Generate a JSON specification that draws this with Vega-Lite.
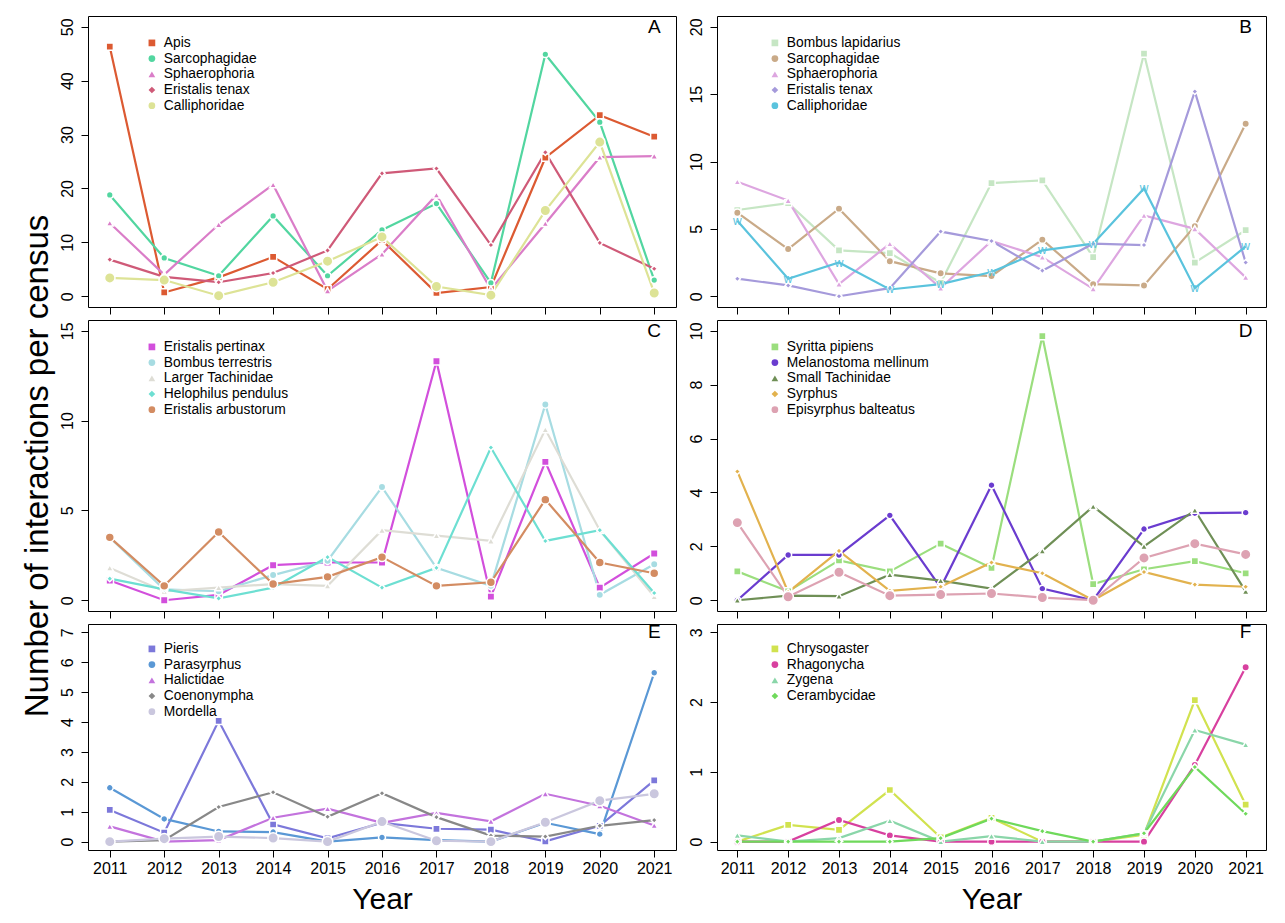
{
"$schema": "https://vega.github.io/schema/vega-lite/v6.json",
"background": "white",
"padding": {"left": 20, "top": 15, "right": 5, "bottom": 5},
"data": {"values": [
{"panel":"A","taxon":"Apis","year":2011,"value":46.3},{"panel":"A","taxon":"Apis","year":2012,"value":0.7},{"panel":"A","taxon":"Apis","year":2013,"value":3.5},{"panel":"A","taxon":"Apis","year":2014,"value":7.3},{"panel":"A","taxon":"Apis","year":2015,"value":1.3},{"panel":"A","taxon":"Apis","year":2016,"value":10.4},{"panel":"A","taxon":"Apis","year":2017,"value":0.6},{"panel":"A","taxon":"Apis","year":2018,"value":1.7},{"panel":"A","taxon":"Apis","year":2019,"value":25.7},{"panel":"A","taxon":"Apis","year":2020,"value":33.6},{"panel":"A","taxon":"Apis","year":2021,"value":29.6},
{"panel":"A","taxon":"Sarcophagidae","year":2011,"value":18.8},{"panel":"A","taxon":"Sarcophagidae","year":2012,"value":7.1},{"panel":"A","taxon":"Sarcophagidae","year":2013,"value":3.8},{"panel":"A","taxon":"Sarcophagidae","year":2014,"value":14.9},{"panel":"A","taxon":"Sarcophagidae","year":2015,"value":3.8},{"panel":"A","taxon":"Sarcophagidae","year":2016,"value":12.3},{"panel":"A","taxon":"Sarcophagidae","year":2017,"value":17.2},{"panel":"A","taxon":"Sarcophagidae","year":2018,"value":2.5},{"panel":"A","taxon":"Sarcophagidae","year":2019,"value":44.9},{"panel":"A","taxon":"Sarcophagidae","year":2020,"value":32.3},{"panel":"A","taxon":"Sarcophagidae","year":2021,"value":3.0},
{"panel":"A","taxon":"Sphaerophoria","year":2011,"value":13.6},{"panel":"A","taxon":"Sphaerophoria","year":2012,"value":4.0},{"panel":"A","taxon":"Sphaerophoria","year":2013,"value":13.3},{"panel":"A","taxon":"Sphaerophoria","year":2014,"value":20.7},{"panel":"A","taxon":"Sphaerophoria","year":2015,"value":1.0},{"panel":"A","taxon":"Sphaerophoria","year":2016,"value":7.8},{"panel":"A","taxon":"Sphaerophoria","year":2017,"value":18.8},{"panel":"A","taxon":"Sphaerophoria","year":2018,"value":1.3},{"panel":"A","taxon":"Sphaerophoria","year":2019,"value":13.5},{"panel":"A","taxon":"Sphaerophoria","year":2020,"value":25.8},{"panel":"A","taxon":"Sphaerophoria","year":2021,"value":26.0},
{"panel":"A","taxon":"Eristalis tenax","year":2011,"value":6.8},{"panel":"A","taxon":"Eristalis tenax","year":2012,"value":3.6},{"panel":"A","taxon":"Eristalis tenax","year":2013,"value":2.6},{"panel":"A","taxon":"Eristalis tenax","year":2014,"value":4.3},{"panel":"A","taxon":"Eristalis tenax","year":2015,"value":8.5},{"panel":"A","taxon":"Eristalis tenax","year":2016,"value":22.8},{"panel":"A","taxon":"Eristalis tenax","year":2017,"value":23.7},{"panel":"A","taxon":"Eristalis tenax","year":2018,"value":9.5},{"panel":"A","taxon":"Eristalis tenax","year":2019,"value":26.7},{"panel":"A","taxon":"Eristalis tenax","year":2020,"value":9.9},{"panel":"A","taxon":"Eristalis tenax","year":2021,"value":5.1},
{"panel":"A","taxon":"Calliphoridae","year":2011,"value":3.4},{"panel":"A","taxon":"Calliphoridae","year":2012,"value":3.0},{"panel":"A","taxon":"Calliphoridae","year":2013,"value":0.1},{"panel":"A","taxon":"Calliphoridae","year":2014,"value":2.6},{"panel":"A","taxon":"Calliphoridae","year":2015,"value":6.5},{"panel":"A","taxon":"Calliphoridae","year":2016,"value":11.0},{"panel":"A","taxon":"Calliphoridae","year":2017,"value":1.8},{"panel":"A","taxon":"Calliphoridae","year":2018,"value":0.2},{"panel":"A","taxon":"Calliphoridae","year":2019,"value":15.9},{"panel":"A","taxon":"Calliphoridae","year":2020,"value":28.6},{"panel":"A","taxon":"Calliphoridae","year":2021,"value":0.6},
{"panel":"B","taxon":"Bombus lapidarius","year":2011,"value":6.4},{"panel":"B","taxon":"Bombus lapidarius","year":2012,"value":6.9},{"panel":"B","taxon":"Bombus lapidarius","year":2013,"value":3.4},{"panel":"B","taxon":"Bombus lapidarius","year":2014,"value":3.2},{"panel":"B","taxon":"Bombus lapidarius","year":2015,"value":1.0},{"panel":"B","taxon":"Bombus lapidarius","year":2016,"value":8.4},{"panel":"B","taxon":"Bombus lapidarius","year":2017,"value":8.6},{"panel":"B","taxon":"Bombus lapidarius","year":2018,"value":2.9},{"panel":"B","taxon":"Bombus lapidarius","year":2019,"value":18.0},{"panel":"B","taxon":"Bombus lapidarius","year":2020,"value":2.5},{"panel":"B","taxon":"Bombus lapidarius","year":2021,"value":4.9},
{"panel":"B","taxon":"Sarcophagidae","year":2011,"value":6.2},{"panel":"B","taxon":"Sarcophagidae","year":2012,"value":3.5},{"panel":"B","taxon":"Sarcophagidae","year":2013,"value":6.5},{"panel":"B","taxon":"Sarcophagidae","year":2014,"value":2.6},{"panel":"B","taxon":"Sarcophagidae","year":2015,"value":1.7},{"panel":"B","taxon":"Sarcophagidae","year":2016,"value":1.5},{"panel":"B","taxon":"Sarcophagidae","year":2017,"value":4.2},{"panel":"B","taxon":"Sarcophagidae","year":2018,"value":0.9},{"panel":"B","taxon":"Sarcophagidae","year":2019,"value":0.8},{"panel":"B","taxon":"Sarcophagidae","year":2020,"value":5.2},{"panel":"B","taxon":"Sarcophagidae","year":2021,"value":12.8},
{"panel":"B","taxon":"Sphaerophoria","year":2011,"value":8.5},{"panel":"B","taxon":"Sphaerophoria","year":2012,"value":7.1},{"panel":"B","taxon":"Sphaerophoria","year":2013,"value":0.9},{"panel":"B","taxon":"Sphaerophoria","year":2014,"value":3.9},{"panel":"B","taxon":"Sphaerophoria","year":2015,"value":0.6},{"panel":"B","taxon":"Sphaerophoria","year":2016,"value":4.1},{"panel":"B","taxon":"Sphaerophoria","year":2017,"value":2.9},{"panel":"B","taxon":"Sphaerophoria","year":2018,"value":0.55},{"panel":"B","taxon":"Sphaerophoria","year":2019,"value":6.0},{"panel":"B","taxon":"Sphaerophoria","year":2020,"value":5.0},{"panel":"B","taxon":"Sphaerophoria","year":2021,"value":1.4},
{"panel":"B","taxon":"Eristalis tenax","year":2011,"value":1.3},{"panel":"B","taxon":"Eristalis tenax","year":2012,"value":0.8},{"panel":"B","taxon":"Eristalis tenax","year":2013,"value":0.0},{"panel":"B","taxon":"Eristalis tenax","year":2014,"value":0.6},{"panel":"B","taxon":"Eristalis tenax","year":2015,"value":4.8},{"panel":"B","taxon":"Eristalis tenax","year":2016,"value":4.1},{"panel":"B","taxon":"Eristalis tenax","year":2017,"value":1.9},{"panel":"B","taxon":"Eristalis tenax","year":2018,"value":3.9},{"panel":"B","taxon":"Eristalis tenax","year":2019,"value":3.8},{"panel":"B","taxon":"Eristalis tenax","year":2020,"value":15.2},{"panel":"B","taxon":"Eristalis tenax","year":2021,"value":2.5},
{"panel":"B","taxon":"Calliphoridae","year":2011,"value":5.6},{"panel":"B","taxon":"Calliphoridae","year":2012,"value":1.3},{"panel":"B","taxon":"Calliphoridae","year":2013,"value":2.5},{"panel":"B","taxon":"Calliphoridae","year":2014,"value":0.5},{"panel":"B","taxon":"Calliphoridae","year":2015,"value":0.9},{"panel":"B","taxon":"Calliphoridae","year":2016,"value":1.8},{"panel":"B","taxon":"Calliphoridae","year":2017,"value":3.4},{"panel":"B","taxon":"Calliphoridae","year":2018,"value":3.9},{"panel":"B","taxon":"Calliphoridae","year":2019,"value":8.0},{"panel":"B","taxon":"Calliphoridae","year":2020,"value":0.6},{"panel":"B","taxon":"Calliphoridae","year":2021,"value":3.7},
{"panel":"C","taxon":"Eristalis pertinax","year":2011,"value":1.1},{"panel":"C","taxon":"Eristalis pertinax","year":2012,"value":0.0},{"panel":"C","taxon":"Eristalis pertinax","year":2013,"value":0.3},{"panel":"C","taxon":"Eristalis pertinax","year":2014,"value":1.95},{"panel":"C","taxon":"Eristalis pertinax","year":2015,"value":2.1},{"panel":"C","taxon":"Eristalis pertinax","year":2016,"value":2.1},{"panel":"C","taxon":"Eristalis pertinax","year":2017,"value":13.3},{"panel":"C","taxon":"Eristalis pertinax","year":2018,"value":0.2},{"panel":"C","taxon":"Eristalis pertinax","year":2019,"value":7.7},{"panel":"C","taxon":"Eristalis pertinax","year":2020,"value":0.7},{"panel":"C","taxon":"Eristalis pertinax","year":2021,"value":2.6},
{"panel":"C","taxon":"Bombus terrestris","year":2011,"value":3.5},{"panel":"C","taxon":"Bombus terrestris","year":2012,"value":0.6},{"panel":"C","taxon":"Bombus terrestris","year":2013,"value":0.5},{"panel":"C","taxon":"Bombus terrestris","year":2014,"value":1.4},{"panel":"C","taxon":"Bombus terrestris","year":2015,"value":2.2},{"panel":"C","taxon":"Bombus terrestris","year":2016,"value":6.3},{"panel":"C","taxon":"Bombus terrestris","year":2017,"value":1.8},{"panel":"C","taxon":"Bombus terrestris","year":2018,"value":0.8},{"panel":"C","taxon":"Bombus terrestris","year":2019,"value":10.9},{"panel":"C","taxon":"Bombus terrestris","year":2020,"value":0.3},{"panel":"C","taxon":"Bombus terrestris","year":2021,"value":2.0},
{"panel":"C","taxon":"Larger Tachinidae","year":2011,"value":1.8},{"panel":"C","taxon":"Larger Tachinidae","year":2012,"value":0.5},{"panel":"C","taxon":"Larger Tachinidae","year":2013,"value":0.7},{"panel":"C","taxon":"Larger Tachinidae","year":2014,"value":0.9},{"panel":"C","taxon":"Larger Tachinidae","year":2015,"value":0.8},{"panel":"C","taxon":"Larger Tachinidae","year":2016,"value":3.9},{"panel":"C","taxon":"Larger Tachinidae","year":2017,"value":3.6},{"panel":"C","taxon":"Larger Tachinidae","year":2018,"value":3.3},{"panel":"C","taxon":"Larger Tachinidae","year":2019,"value":9.5},{"panel":"C","taxon":"Larger Tachinidae","year":2020,"value":3.9},{"panel":"C","taxon":"Larger Tachinidae","year":2021,"value":0.2},
{"panel":"C","taxon":"Helophilus pendulus","year":2011,"value":1.2},{"panel":"C","taxon":"Helophilus pendulus","year":2012,"value":0.6},{"panel":"C","taxon":"Helophilus pendulus","year":2013,"value":0.1},{"panel":"C","taxon":"Helophilus pendulus","year":2014,"value":0.7},{"panel":"C","taxon":"Helophilus pendulus","year":2015,"value":2.4},{"panel":"C","taxon":"Helophilus pendulus","year":2016,"value":0.7},{"panel":"C","taxon":"Helophilus pendulus","year":2017,"value":1.8},{"panel":"C","taxon":"Helophilus pendulus","year":2018,"value":8.5},{"panel":"C","taxon":"Helophilus pendulus","year":2019,"value":3.3},{"panel":"C","taxon":"Helophilus pendulus","year":2020,"value":3.9},{"panel":"C","taxon":"Helophilus pendulus","year":2021,"value":0.4},
{"panel":"C","taxon":"Eristalis arbustorum","year":2011,"value":3.5},{"panel":"C","taxon":"Eristalis arbustorum","year":2012,"value":0.8},{"panel":"C","taxon":"Eristalis arbustorum","year":2013,"value":3.8},{"panel":"C","taxon":"Eristalis arbustorum","year":2014,"value":0.9},{"panel":"C","taxon":"Eristalis arbustorum","year":2015,"value":1.3},{"panel":"C","taxon":"Eristalis arbustorum","year":2016,"value":2.4},{"panel":"C","taxon":"Eristalis arbustorum","year":2017,"value":0.8},{"panel":"C","taxon":"Eristalis arbustorum","year":2018,"value":1.0},{"panel":"C","taxon":"Eristalis arbustorum","year":2019,"value":5.6},{"panel":"C","taxon":"Eristalis arbustorum","year":2020,"value":2.1},{"panel":"C","taxon":"Eristalis arbustorum","year":2021,"value":1.5},
{"panel":"D","taxon":"Syritta pipiens","year":2011,"value":1.07},{"panel":"D","taxon":"Syritta pipiens","year":2012,"value":0.33},{"panel":"D","taxon":"Syritta pipiens","year":2013,"value":1.48},{"panel":"D","taxon":"Syritta pipiens","year":2014,"value":1.07},{"panel":"D","taxon":"Syritta pipiens","year":2015,"value":2.1},{"panel":"D","taxon":"Syritta pipiens","year":2016,"value":1.2},{"panel":"D","taxon":"Syritta pipiens","year":2017,"value":9.8},{"panel":"D","taxon":"Syritta pipiens","year":2018,"value":0.6},{"panel":"D","taxon":"Syritta pipiens","year":2019,"value":1.15},{"panel":"D","taxon":"Syritta pipiens","year":2020,"value":1.45},{"panel":"D","taxon":"Syritta pipiens","year":2021,"value":1.0},
{"panel":"D","taxon":"Melanostoma mellinum","year":2011,"value":0.0},{"panel":"D","taxon":"Melanostoma mellinum","year":2012,"value":1.68},{"panel":"D","taxon":"Melanostoma mellinum","year":2013,"value":1.68},{"panel":"D","taxon":"Melanostoma mellinum","year":2014,"value":3.15},{"panel":"D","taxon":"Melanostoma mellinum","year":2015,"value":0.47},{"panel":"D","taxon":"Melanostoma mellinum","year":2016,"value":4.27},{"panel":"D","taxon":"Melanostoma mellinum","year":2017,"value":0.43},{"panel":"D","taxon":"Melanostoma mellinum","year":2018,"value":0.0},{"panel":"D","taxon":"Melanostoma mellinum","year":2019,"value":2.64},{"panel":"D","taxon":"Melanostoma mellinum","year":2020,"value":3.23},{"panel":"D","taxon":"Melanostoma mellinum","year":2021,"value":3.25},
{"panel":"D","taxon":"Small Tachinidae","year":2011,"value":0.0},{"panel":"D","taxon":"Small Tachinidae","year":2012,"value":0.17},{"panel":"D","taxon":"Small Tachinidae","year":2013,"value":0.15},{"panel":"D","taxon":"Small Tachinidae","year":2014,"value":0.95},{"panel":"D","taxon":"Small Tachinidae","year":2015,"value":0.73},{"panel":"D","taxon":"Small Tachinidae","year":2016,"value":0.43},{"panel":"D","taxon":"Small Tachinidae","year":2017,"value":1.83},{"panel":"D","taxon":"Small Tachinidae","year":2018,"value":3.48},{"panel":"D","taxon":"Small Tachinidae","year":2019,"value":2.0},{"panel":"D","taxon":"Small Tachinidae","year":2020,"value":3.34},{"panel":"D","taxon":"Small Tachinidae","year":2021,"value":0.33},
{"panel":"D","taxon":"Syrphus","year":2011,"value":4.78},{"panel":"D","taxon":"Syrphus","year":2012,"value":0.3},{"panel":"D","taxon":"Syrphus","year":2013,"value":1.83},{"panel":"D","taxon":"Syrphus","year":2014,"value":0.35},{"panel":"D","taxon":"Syrphus","year":2015,"value":0.5},{"panel":"D","taxon":"Syrphus","year":2016,"value":1.4},{"panel":"D","taxon":"Syrphus","year":2017,"value":1.0},{"panel":"D","taxon":"Syrphus","year":2018,"value":0.0},{"panel":"D","taxon":"Syrphus","year":2019,"value":1.05},{"panel":"D","taxon":"Syrphus","year":2020,"value":0.58},{"panel":"D","taxon":"Syrphus","year":2021,"value":0.5},
{"panel":"D","taxon":"Episyrphus balteatus","year":2011,"value":2.88},{"panel":"D","taxon":"Episyrphus balteatus","year":2012,"value":0.13},{"panel":"D","taxon":"Episyrphus balteatus","year":2013,"value":1.04},{"panel":"D","taxon":"Episyrphus balteatus","year":2014,"value":0.17},{"panel":"D","taxon":"Episyrphus balteatus","year":2015,"value":0.21},{"panel":"D","taxon":"Episyrphus balteatus","year":2016,"value":0.25},{"panel":"D","taxon":"Episyrphus balteatus","year":2017,"value":0.1},{"panel":"D","taxon":"Episyrphus balteatus","year":2018,"value":0.0},{"panel":"D","taxon":"Episyrphus balteatus","year":2019,"value":1.57},{"panel":"D","taxon":"Episyrphus balteatus","year":2020,"value":2.1},{"panel":"D","taxon":"Episyrphus balteatus","year":2021,"value":1.7},
{"panel":"E","taxon":"Pieris","year":2011,"value":1.06},{"panel":"E","taxon":"Pieris","year":2012,"value":0.3},{"panel":"E","taxon":"Pieris","year":2013,"value":4.04},{"panel":"E","taxon":"Pieris","year":2014,"value":0.58},{"panel":"E","taxon":"Pieris","year":2015,"value":0.11},{"panel":"E","taxon":"Pieris","year":2016,"value":0.63},{"panel":"E","taxon":"Pieris","year":2017,"value":0.43},{"panel":"E","taxon":"Pieris","year":2018,"value":0.4},{"panel":"E","taxon":"Pieris","year":2019,"value":0.01},{"panel":"E","taxon":"Pieris","year":2020,"value":0.53},{"panel":"E","taxon":"Pieris","year":2021,"value":2.05},
{"panel":"E","taxon":"Parasyrphus","year":2011,"value":1.8},{"panel":"E","taxon":"Parasyrphus","year":2012,"value":0.76},{"panel":"E","taxon":"Parasyrphus","year":2013,"value":0.34},{"panel":"E","taxon":"Parasyrphus","year":2014,"value":0.32},{"panel":"E","taxon":"Parasyrphus","year":2015,"value":0.0},{"panel":"E","taxon":"Parasyrphus","year":2016,"value":0.14},{"panel":"E","taxon":"Parasyrphus","year":2017,"value":0.05},{"panel":"E","taxon":"Parasyrphus","year":2018,"value":0.0},{"panel":"E","taxon":"Parasyrphus","year":2019,"value":0.63},{"panel":"E","taxon":"Parasyrphus","year":2020,"value":0.25},{"panel":"E","taxon":"Parasyrphus","year":2021,"value":5.65},
{"panel":"E","taxon":"Halictidae","year":2011,"value":0.51},{"panel":"E","taxon":"Halictidae","year":2012,"value":0.0},{"panel":"E","taxon":"Halictidae","year":2013,"value":0.05},{"panel":"E","taxon":"Halictidae","year":2014,"value":0.8},{"panel":"E","taxon":"Halictidae","year":2015,"value":1.1},{"panel":"E","taxon":"Halictidae","year":2016,"value":0.63},{"panel":"E","taxon":"Halictidae","year":2017,"value":0.96},{"panel":"E","taxon":"Halictidae","year":2018,"value":0.68},{"panel":"E","taxon":"Halictidae","year":2019,"value":1.6},{"panel":"E","taxon":"Halictidae","year":2020,"value":1.2},{"panel":"E","taxon":"Halictidae","year":2021,"value":0.54},
{"panel":"E","taxon":"Coenonympha","year":2011,"value":0.0},{"panel":"E","taxon":"Coenonympha","year":2012,"value":0.05},{"panel":"E","taxon":"Coenonympha","year":2013,"value":1.16},{"panel":"E","taxon":"Coenonympha","year":2014,"value":1.65},{"panel":"E","taxon":"Coenonympha","year":2015,"value":0.83},{"panel":"E","taxon":"Coenonympha","year":2016,"value":1.62},{"panel":"E","taxon":"Coenonympha","year":2017,"value":0.82},{"panel":"E","taxon":"Coenonympha","year":2018,"value":0.2},{"panel":"E","taxon":"Coenonympha","year":2019,"value":0.17},{"panel":"E","taxon":"Coenonympha","year":2020,"value":0.53},{"panel":"E","taxon":"Coenonympha","year":2021,"value":0.72},
{"panel":"E","taxon":"Mordella","year":2011,"value":0.0},{"panel":"E","taxon":"Mordella","year":2012,"value":0.1},{"panel":"E","taxon":"Mordella","year":2013,"value":0.17},{"panel":"E","taxon":"Mordella","year":2014,"value":0.12},{"panel":"E","taxon":"Mordella","year":2015,"value":0.0},{"panel":"E","taxon":"Mordella","year":2016,"value":0.67},{"panel":"E","taxon":"Mordella","year":2017,"value":0.03},{"panel":"E","taxon":"Mordella","year":2018,"value":0.0},{"panel":"E","taxon":"Mordella","year":2019,"value":0.65},{"panel":"E","taxon":"Mordella","year":2020,"value":1.37},{"panel":"E","taxon":"Mordella","year":2021,"value":1.6},
{"panel":"F","taxon":"Chrysogaster","year":2011,"value":0.0},{"panel":"F","taxon":"Chrysogaster","year":2012,"value":0.24},{"panel":"F","taxon":"Chrysogaster","year":2013,"value":0.17},{"panel":"F","taxon":"Chrysogaster","year":2014,"value":0.74},{"panel":"F","taxon":"Chrysogaster","year":2015,"value":0.06},{"panel":"F","taxon":"Chrysogaster","year":2016,"value":0.34},{"panel":"F","taxon":"Chrysogaster","year":2017,"value":0.0},{"panel":"F","taxon":"Chrysogaster","year":2018,"value":0.0},{"panel":"F","taxon":"Chrysogaster","year":2019,"value":0.1},{"panel":"F","taxon":"Chrysogaster","year":2020,"value":2.03},{"panel":"F","taxon":"Chrysogaster","year":2021,"value":0.53},
{"panel":"F","taxon":"Rhagonycha","year":2011,"value":0.0},{"panel":"F","taxon":"Rhagonycha","year":2012,"value":0.0},{"panel":"F","taxon":"Rhagonycha","year":2013,"value":0.31},{"panel":"F","taxon":"Rhagonycha","year":2014,"value":0.09},{"panel":"F","taxon":"Rhagonycha","year":2015,"value":0.0},{"panel":"F","taxon":"Rhagonycha","year":2016,"value":0.0},{"panel":"F","taxon":"Rhagonycha","year":2017,"value":0.0},{"panel":"F","taxon":"Rhagonycha","year":2018,"value":0.0},{"panel":"F","taxon":"Rhagonycha","year":2019,"value":0.0},{"panel":"F","taxon":"Rhagonycha","year":2020,"value":1.1},{"panel":"F","taxon":"Rhagonycha","year":2021,"value":2.5},
{"panel":"F","taxon":"Zygena","year":2011,"value":0.09},{"panel":"F","taxon":"Zygena","year":2012,"value":0.0},{"panel":"F","taxon":"Zygena","year":2013,"value":0.05},{"panel":"F","taxon":"Zygena","year":2014,"value":0.3},{"panel":"F","taxon":"Zygena","year":2015,"value":0.0},{"panel":"F","taxon":"Zygena","year":2016,"value":0.08},{"panel":"F","taxon":"Zygena","year":2017,"value":0.0},{"panel":"F","taxon":"Zygena","year":2018,"value":0.0},{"panel":"F","taxon":"Zygena","year":2019,"value":0.12},{"panel":"F","taxon":"Zygena","year":2020,"value":1.6},{"panel":"F","taxon":"Zygena","year":2021,"value":1.39},
{"panel":"F","taxon":"Cerambycidae","year":2011,"value":0.0},{"panel":"F","taxon":"Cerambycidae","year":2012,"value":0.0},{"panel":"F","taxon":"Cerambycidae","year":2013,"value":0.0},{"panel":"F","taxon":"Cerambycidae","year":2014,"value":0.0},{"panel":"F","taxon":"Cerambycidae","year":2015,"value":0.05},{"panel":"F","taxon":"Cerambycidae","year":2016,"value":0.33},{"panel":"F","taxon":"Cerambycidae","year":2017,"value":0.15},{"panel":"F","taxon":"Cerambycidae","year":2018,"value":0.0},{"panel":"F","taxon":"Cerambycidae","year":2019,"value":0.12},{"panel":"F","taxon":"Cerambycidae","year":2020,"value":1.07},{"panel":"F","taxon":"Cerambycidae","year":2021,"value":0.4}
]},
"columns": 2,
"bounds": "flush",
"align": "each",
"spacing": {"row": 13, "column": 41},
"resolve": {"scale": {"x": "independent", "y": "independent", "color": "independent", "shape": "independent", "stroke": "independent"}, "legend": {"color": "independent", "shape": "independent", "stroke": "independent"}, "axis": {"x": "independent", "y": "independent"}},
"concat": [
{
 "width": 588, "height": 291,
 "transform": [{"filter": "datum.panel === 'A'"}],
 "encoding": {
  "x": {"field": "year", "type": "quantitative", "scale": {"domain": [2010.6, 2021.4], "nice": false, "zero": false}, "axis": {"values": [2011,2012,2013,2014,2015,2016,2017,2018,2019,2020,2021], "labels": false, "title": null}},
  "y": {"field": "value", "type": "quantitative", "scale": {"domain": [-2, 52], "nice": false, "zero": false}, "axis": {"values": [0,10,20,30,40,50], "title": null, "labelFontSize": 16}}
 },
 "layer": [
  {"mark": {"type": "line", "strokeWidth": 2.2}, "encoding": {"stroke": {"field": "taxon", "type": "nominal", "scale": {"domain": ["Calliphoridae","Eristalis tenax","Sphaerophoria","Sarcophagidae","Apis"], "range": ["#DDE396","#CF5A78","#DA7DC8","#52D6A0","#DC5A32"]}, "legend": null}}},
  {"mark": {"type": "point", "filled": true, "opacity": 1, "stroke": "white", "strokeWidth": 1.5},
   "encoding": {
    "color": {"field": "taxon", "type": "nominal", "scale": {"domain": ["Apis","Sarcophagidae","Sphaerophoria","Eristalis tenax","Calliphoridae"], "range": ["#DC5A32","#52D6A0","#DA7DC8","#CF5A78","#DDE396"]}, "legend": {"orient": "none", "legendX": 57, "legendY": 20, "title": null, "labelFontSize": 13.8, "rowPadding": 0.7, "labelOffset": 5}},
    "shape": {"field": "taxon", "type": "nominal", "scale": {"domain": ["Apis","Sarcophagidae","Sphaerophoria","Eristalis tenax","Calliphoridae"], "range": ["square","circle","triangle-up","diamond","circle"]}, "legend": {"orient": "none", "legendX": 57, "legendY": 20, "title": null, "labelFontSize": 13.8, "rowPadding": 0.7, "labelOffset": 5}},
    "size": {"condition": [{"test": "datum.taxon === 'Calliphoridae'", "value": 110}, {"test": "datum.taxon === 'Sarcophagidae'", "value": 45}, {"test": "datum.taxon === 'Eristalis tenax'", "value": 38}], "value": 52}
   }},
  {"transform": [{"filter": "datum.year === 2021 && datum.taxon === 'Apis'"}], "mark": {"type": "text", "fontSize": 19, "align": "center", "baseline": "middle", "color": "black"}, "encoding": {"x": {"datum": 2021}, "y": {"datum": 50}, "text": {"field": "panel"}}}
 ]
},
{
 "width": 549, "height": 291,
 "transform": [{"filter": "datum.panel === 'B'"}],
 "encoding": {
  "x": {"field": "year", "type": "quantitative", "scale": {"domain": [2010.6, 2021.4], "nice": false, "zero": false}, "axis": {"values": [2011,2012,2013,2014,2015,2016,2017,2018,2019,2020,2021], "labels": false, "title": null}},
  "y": {"field": "value", "type": "quantitative", "scale": {"domain": [-0.8, 20.8], "nice": false, "zero": false}, "axis": {"values": [0,5,10,15,20], "title": null, "labelFontSize": 16}}
 },
 "layer": [
  {"mark": {"type": "line", "strokeWidth": 2.2}, "encoding": {"stroke": {"field": "taxon", "type": "nominal", "scale": {"domain": ["Calliphoridae","Eristalis tenax","Sphaerophoria","Sarcophagidae","Bombus lapidarius"], "range": ["#5AC3DD","#A59ADB","#DDA6E0","#C9AA88","#C6E6C4"]}, "legend": null}}},
  {"transform": [{"filter": "datum.taxon !== 'Calliphoridae'"}],
   "mark": {"type": "point", "filled": true, "opacity": 1, "stroke": "white", "strokeWidth": 1.5},
   "encoding": {
    "color": {"field": "taxon", "type": "nominal", "scale": {"domain": ["Bombus lapidarius","Sarcophagidae","Sphaerophoria","Eristalis tenax","Calliphoridae"], "range": ["#C6E6C4","#C9AA88","#DDA6E0","#A59ADB","#5AC3DD"]}, "legend": {"orient": "none", "legendX": 51, "legendY": 20, "title": null, "labelFontSize": 13.8, "rowPadding": 0.7, "labelOffset": 5}},
    "shape": {"field": "taxon", "type": "nominal", "scale": {"domain": ["Bombus lapidarius","Sarcophagidae","Sphaerophoria","Eristalis tenax","Calliphoridae"], "range": ["square","circle","triangle-up","diamond","circle"]}, "legend": {"orient": "none", "legendX": 51, "legendY": 20, "title": null, "labelFontSize": 13.8, "rowPadding": 0.7, "labelOffset": 5}},
    "size": {"condition": [{"test": "datum.taxon === 'Sarcophagidae'", "value": 55}, {"test": "datum.taxon === 'Eristalis tenax'", "value": 38}], "value": 52}
   }},
  {"transform": [{"filter": "datum.taxon === 'Calliphoridae'"}], "mark": {"type": "text", "text": "w", "fontSize": 12, "color": "#5AC3DD", "baseline": "middle", "align": "center"}},
  {"transform": [{"filter": "datum.year === 2021 && datum.taxon === 'Bombus lapidarius'"}], "mark": {"type": "text", "fontSize": 19, "align": "center", "baseline": "middle", "color": "black"}, "encoding": {"x": {"datum": 2021}, "y": {"datum": 20}, "text": {"field": "panel"}}}
 ]
},
{
 "width": 588, "height": 291,
 "transform": [{"filter": "datum.panel === 'C'"}],
 "encoding": {
  "x": {"field": "year", "type": "quantitative", "scale": {"domain": [2010.6, 2021.4], "nice": false, "zero": false}, "axis": {"values": [2011,2012,2013,2014,2015,2016,2017,2018,2019,2020,2021], "labels": false, "title": null}},
  "y": {"field": "value", "type": "quantitative", "scale": {"domain": [-0.6, 15.6], "nice": false, "zero": false}, "axis": {"values": [0,5,10,15], "title": "Number of interactions per census", "titleFontSize": 33, "titlePadding": 5, "labelFontSize": 16}}
 },
 "layer": [
  {"mark": {"type": "line", "strokeWidth": 2.2}, "encoding": {"stroke": {"field": "taxon", "type": "nominal", "scale": {"domain": ["Eristalis arbustorum","Helophilus pendulus","Larger Tachinidae","Bombus terrestris","Eristalis pertinax"], "range": ["#D38C62","#6DDFD2","#DEDDD5","#A7DCE2","#D24FDC"]}, "legend": null}}},
  {"mark": {"type": "point", "filled": true, "opacity": 1, "stroke": "white", "strokeWidth": 1.5},
   "encoding": {
    "color": {"field": "taxon", "type": "nominal", "scale": {"domain": ["Eristalis pertinax","Bombus terrestris","Larger Tachinidae","Helophilus pendulus","Eristalis arbustorum"], "range": ["#D24FDC","#A7DCE2","#DEDDD5","#6DDFD2","#D38C62"]}, "legend": {"orient": "none", "legendX": 57, "legendY": 20, "title": null, "labelFontSize": 13.8, "rowPadding": 0.7, "labelOffset": 5}},
    "shape": {"field": "taxon", "type": "nominal", "scale": {"domain": ["Eristalis pertinax","Bombus terrestris","Larger Tachinidae","Helophilus pendulus","Eristalis arbustorum"], "range": ["square","circle","triangle-up","diamond","circle"]}, "legend": {"orient": "none", "legendX": 57, "legendY": 20, "title": null, "labelFontSize": 13.8, "rowPadding": 0.7, "labelOffset": 5}},
    "size": {"condition": [{"test": "datum.taxon === 'Eristalis arbustorum'", "value": 80}, {"test": "datum.taxon === 'Helophilus pendulus'", "value": 38}], "value": 55}
   }},
  {"transform": [{"filter": "datum.year === 2021 && datum.taxon === 'Eristalis pertinax'"}], "mark": {"type": "text", "fontSize": 19, "align": "center", "baseline": "middle", "color": "black"}, "encoding": {"x": {"datum": 2021}, "y": {"datum": 15}, "text": {"field": "panel"}}}
 ]
},
{
 "width": 549, "height": 291,
 "transform": [{"filter": "datum.panel === 'D'"}],
 "encoding": {
  "x": {"field": "year", "type": "quantitative", "scale": {"domain": [2010.6, 2021.4], "nice": false, "zero": false}, "axis": {"values": [2011,2012,2013,2014,2015,2016,2017,2018,2019,2020,2021], "labels": false, "title": null}},
  "y": {"field": "value", "type": "quantitative", "scale": {"domain": [-0.4, 10.4], "nice": false, "zero": false}, "axis": {"values": [0,2,4,6,8,10], "title": null, "labelFontSize": 16}}
 },
 "layer": [
  {"mark": {"type": "line", "strokeWidth": 2.2}, "encoding": {"stroke": {"field": "taxon", "type": "nominal", "scale": {"domain": ["Episyrphus balteatus","Syrphus","Small Tachinidae","Melanostoma mellinum","Syritta pipiens"], "range": ["#DDA2B2","#E2B24E","#6F8F56","#6A3CCF","#9BDE7E"]}, "legend": null}}},
  {"mark": {"type": "point", "filled": true, "opacity": 1, "stroke": "white", "strokeWidth": 1.5},
   "encoding": {
    "color": {"field": "taxon", "type": "nominal", "scale": {"domain": ["Syritta pipiens","Melanostoma mellinum","Small Tachinidae","Syrphus","Episyrphus balteatus"], "range": ["#9BDE7E","#6A3CCF","#6F8F56","#E2B24E","#DDA2B2"]}, "legend": {"orient": "none", "legendX": 51, "legendY": 20, "title": null, "labelFontSize": 13.8, "rowPadding": 0.7, "labelOffset": 5}},
    "shape": {"field": "taxon", "type": "nominal", "scale": {"domain": ["Syritta pipiens","Melanostoma mellinum","Small Tachinidae","Syrphus","Episyrphus balteatus"], "range": ["square","circle","triangle-up","diamond","circle"]}, "legend": {"orient": "none", "legendX": 51, "legendY": 20, "title": null, "labelFontSize": 13.8, "rowPadding": 0.7, "labelOffset": 5}},
    "size": {"condition": [{"test": "datum.taxon === 'Episyrphus balteatus'", "value": 110}, {"test": "datum.taxon === 'Melanostoma mellinum'", "value": 48}, {"test": "datum.taxon === 'Syrphus'", "value": 38}], "value": 52}
   }},
  {"transform": [{"filter": "datum.year === 2021 && datum.taxon === 'Syritta pipiens'"}], "mark": {"type": "text", "fontSize": 19, "align": "center", "baseline": "middle", "color": "black"}, "encoding": {"x": {"datum": 2021}, "y": {"datum": 10}, "text": {"field": "panel"}}}
 ]
},
{
 "width": 588, "height": 226,
 "transform": [{"filter": "datum.panel === 'E'"}],
 "encoding": {
  "x": {"field": "year", "type": "quantitative", "scale": {"domain": [2010.6, 2021.4], "nice": false, "zero": false}, "axis": {"values": [2011,2012,2013,2014,2015,2016,2017,2018,2019,2020,2021], "format": "d", "title": "Year", "titleFontSize": 30, "titlePadding": 8, "labelFontSize": 16}},
  "y": {"field": "value", "type": "quantitative", "scale": {"domain": [-0.28, 7.28], "nice": false, "zero": false}, "axis": {"values": [0,1,2,3,4,5,6,7], "title": null, "labelFontSize": 16}}
 },
 "layer": [
  {"mark": {"type": "line", "strokeWidth": 2.2}, "encoding": {"stroke": {"field": "taxon", "type": "nominal", "scale": {"domain": ["Mordella","Coenonympha","Halictidae","Parasyrphus","Pieris"], "range": ["#CAC7DE","#888888","#C373DD","#5A98D5","#7C78DA"]}, "legend": null}}},
  {"mark": {"type": "point", "filled": true, "opacity": 1, "stroke": "white", "strokeWidth": 1.5},
   "encoding": {
    "color": {"field": "taxon", "type": "nominal", "scale": {"domain": ["Pieris","Parasyrphus","Halictidae","Coenonympha","Mordella"], "range": ["#7C78DA","#5A98D5","#C373DD","#888888","#CAC7DE"]}, "legend": {"orient": "none", "legendX": 57, "legendY": 18, "title": null, "labelFontSize": 13.8, "rowPadding": 0.7, "labelOffset": 5}},
    "shape": {"field": "taxon", "type": "nominal", "scale": {"domain": ["Pieris","Parasyrphus","Halictidae","Coenonympha","Mordella"], "range": ["square","circle","triangle-up","diamond","circle"]}, "legend": {"orient": "none", "legendX": 57, "legendY": 18, "title": null, "labelFontSize": 13.8, "rowPadding": 0.7, "labelOffset": 5}},
    "size": {"condition": [{"test": "datum.taxon === 'Mordella'", "value": 110}, {"test": "datum.taxon === 'Parasyrphus'", "value": 48}, {"test": "datum.taxon === 'Coenonympha'", "value": 38}], "value": 52}
   }},
  {"transform": [{"filter": "datum.year === 2021 && datum.taxon === 'Pieris'"}], "mark": {"type": "text", "fontSize": 19, "align": "center", "baseline": "middle", "color": "black"}, "encoding": {"x": {"datum": 2021}, "y": {"datum": 7}, "text": {"field": "panel"}}}
 ]
},
{
 "width": 549, "height": 226,
 "transform": [{"filter": "datum.panel === 'F'"}],
 "encoding": {
  "x": {"field": "year", "type": "quantitative", "scale": {"domain": [2010.6, 2021.4], "nice": false, "zero": false}, "axis": {"values": [2011,2012,2013,2014,2015,2016,2017,2018,2019,2020,2021], "format": "d", "title": "Year", "titleFontSize": 30, "titlePadding": 8, "labelFontSize": 16}},
  "y": {"field": "value", "type": "quantitative", "scale": {"domain": [-0.12, 3.12], "nice": false, "zero": false}, "axis": {"values": [0,1,2,3], "title": null, "labelFontSize": 16}}
 },
 "layer": [
  {"mark": {"type": "line", "strokeWidth": 2.2}, "encoding": {"stroke": {"field": "taxon", "type": "nominal", "scale": {"domain": ["Cerambycidae","Zygena","Rhagonycha","Chrysogaster"], "range": ["#6FD95B","#8AD6A9","#D8409F","#D1E24F"]}, "legend": null}}},
  {"mark": {"type": "point", "filled": true, "opacity": 1, "stroke": "white", "strokeWidth": 1.5},
   "encoding": {
    "color": {"field": "taxon", "type": "nominal", "scale": {"domain": ["Chrysogaster","Rhagonycha","Zygena","Cerambycidae"], "range": ["#D1E24F","#D8409F","#8AD6A9","#6FD95B"]}, "legend": {"orient": "none", "legendX": 51, "legendY": 18, "title": null, "labelFontSize": 13.8, "rowPadding": 0.7, "labelOffset": 5}},
    "shape": {"field": "taxon", "type": "nominal", "scale": {"domain": ["Chrysogaster","Rhagonycha","Zygena","Cerambycidae"], "range": ["square","circle","triangle-up","diamond"]}, "legend": {"orient": "none", "legendX": 51, "legendY": 18, "title": null, "labelFontSize": 13.8, "rowPadding": 0.7, "labelOffset": 5}},
    "size": {"condition": [{"test": "datum.taxon === 'Rhagonycha'", "value": 55}, {"test": "datum.taxon === 'Cerambycidae'", "value": 38}], "value": 52}
   }},
  {"transform": [{"filter": "datum.year === 2021 && datum.taxon === 'Chrysogaster'"}], "mark": {"type": "text", "fontSize": 19, "align": "center", "baseline": "middle", "color": "black"}, "encoding": {"x": {"datum": 2021}, "y": {"datum": 3}, "text": {"field": "panel"}}}
 ]
}
],
"config": {
 "view": {"stroke": "black", "strokeWidth": 1},
 "axis": {"labelFont": "Liberation Sans", "labelFontSize": 16, "labelColor": "black", "tickColor": "black", "tickSize": 7, "tickWidth": 1, "domain": false, "grid": false, "titleFont": "Liberation Sans", "titleFontWeight": "normal", "titleColor": "black", "labelOverlap": false},
 "axisY": {"labelAngle": -90, "labelAlign": "center", "labelBaseline": "bottom", "labelPadding": 6, "labelFontSize": 16},
 "axisX": {"labelPadding": 3, "labelFontSize": 16},
 "legend": {"labelFont": "Liberation Sans", "labelFontSize": 13.8, "labelColor": "black", "symbolSize": 45, "symbolStrokeWidth": 0, "rowPadding": 0.7, "labelOffset": 5, "padding": 0},
 "text": {"font": "Liberation Sans"}
}
}
